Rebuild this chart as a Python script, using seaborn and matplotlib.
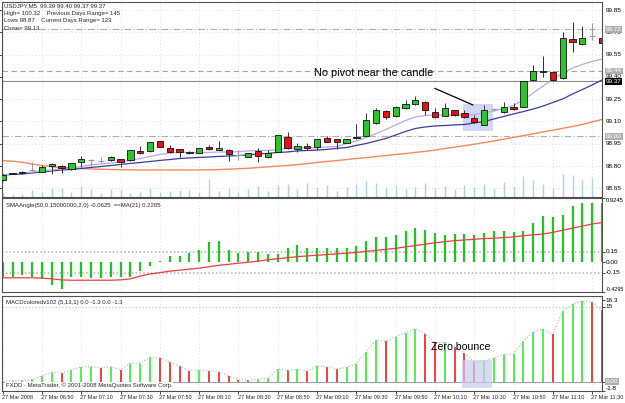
import matplotlib
matplotlib.use("Agg")
import matplotlib.pyplot as plt
import matplotlib.transforms as mtrans
from matplotlib.patches import Rectangle
import numpy as np
import pandas as pd
import seaborn as sns

sns.set_style("white")
plt.rcParams["font.family"] = ["Liberation Sans Narrow", "Liberation Sans", "DejaVu Sans"]

# ---------------- data ----------------
bars = list(range(62))
opens = [98.707, 98.748, 98.752, 98.774, 98.761, 98.801, 98.801, 98.779, 98.826, 98.840,
         98.835, 98.839, 98.848, 98.841, 98.902, 98.900, 98.967, 98.920, 98.913, 98.886,
         98.890, 98.931, 98.909, 98.909, 98.875, 98.863, 98.900, 98.859, 98.897, 98.998,
         98.913, 98.935, 98.931, 98.987, 98.980, 98.958, 98.987, 99.002, 99.090, 99.171,
         99.134, 99.189, 99.221, 99.233, 99.167, 99.137, 99.177, 99.159, 99.122, 99.077,
         99.181, 99.166, 99.200, 99.200, 99.379, 99.430, 99.433, 99.391, 99.653, 99.619,
         99.677, 99.660]
highs = [98.750, 98.755, 98.765, 98.830, 98.808, 98.823, 98.805, 98.822, 98.868, 98.850,
         98.860, 98.865, 98.850, 98.910, 98.935, 98.962, 98.968, 98.940, 98.915, 98.900,
         98.925, 98.942, 98.969, 98.912, 98.909, 98.890, 98.922, 98.909, 99.010, 99.032,
         98.958, 98.954, 98.985, 99.003, 98.983, 98.985, 99.081, 99.157, 99.193, 99.175,
         99.205, 99.245, 99.272, 99.235, 99.189, 99.223, 99.180, 99.177, 99.144, 99.211,
         99.190, 99.233, 99.225, 99.375, 99.480, 99.543, 99.440, 99.704, 99.771, 99.742,
         99.763, 99.711]
lows = [98.700, 98.745, 98.750, 98.761, 98.758, 98.747, 98.754, 98.775, 98.796, 98.800,
        98.820, 98.835, 98.796, 98.835, 98.880, 98.898, 98.930, 98.886, 98.859, 98.880,
        98.885, 98.909, 98.905, 98.837, 98.841, 98.860, 98.828, 98.855, 98.895, 98.915,
        98.897, 98.909, 98.909, 98.960, 98.913, 98.955, 98.980, 99.000, 99.085, 99.117,
        99.130, 99.182, 99.211, 99.144, 99.124, 99.135, 99.140, 99.125, 99.090, 99.075,
        99.170, 99.160, 99.180, 99.198, 99.375, 99.401, 99.373, 99.385, 99.568, 99.615,
        99.648, 99.625]
closes = [98.740, 98.752, 98.762, 98.774, 98.794, 98.814, 98.790, 98.819, 98.848, 98.840,
          98.835, 98.861, 98.826, 98.909, 98.886, 98.960, 98.931, 98.897, 98.893, 98.895,
          98.920, 98.917, 98.920, 98.882, 98.875, 98.886, 98.870, 98.890, 99.009, 98.920,
          98.937, 98.920, 98.980, 98.964, 98.964, 98.980, 98.998, 99.110, 99.178, 99.130,
          99.200, 99.216, 99.245, 99.177, 99.130, 99.189, 99.142, 99.128, 99.095, 99.177,
          99.181, 99.196, 99.184, 99.373, 99.442, 99.442, 99.379, 99.660, 99.633, 99.660,
          99.677, 99.630]
volumes = [12, 9, 9, 21, 15, 27, 27, 15, 33, 24, 12, 24, 24, 12, 15, 27, 15, 18, 21, 21,
           15, 54, 18, 27, 15, 24, 33, 18, 36, 39, 24, 42, 27, 36, 18, 30, 39, 48, 42, 30,
           36, 24, 30, 42, 27, 33, 24, 36, 30, 39, 27, 45, 33, 63, 51, 39, 27, 69, 66, 51,
           57, 36]
ma_fast = [98.740, 98.747, 98.754, 98.760, 98.767, 98.774, 98.781, 98.787, 98.797, 98.808,
           98.814, 98.821, 98.828, 98.838, 98.851, 98.865, 98.878, 98.888, 98.892, 98.892,
           98.888, 98.892, 98.895, 98.895, 98.898, 98.902, 98.905, 98.905, 98.912, 98.919,
           98.922, 98.922, 98.925, 98.929, 98.932, 98.952, 98.969, 98.992, 99.019, 99.046,
           99.077, 99.107, 99.130, 99.140, 99.144, 99.144, 99.144, 99.144, 99.147, 99.157,
           99.171, 99.188, 99.208, 99.245, 99.292, 99.339, 99.383, 99.426, 99.460, 99.484,
           99.504, 99.520]
ma_mid = [98.740, 98.744, 98.747, 98.754, 98.760, 98.767, 98.774, 98.777, 98.784, 98.791,
          98.797, 98.804, 98.811, 98.818, 98.824, 98.831, 98.838, 98.844, 98.851, 98.855,
          98.858, 98.861, 98.865, 98.868, 98.871, 98.875, 98.882, 98.885, 98.892, 98.895,
          98.902, 98.905, 98.908, 98.912, 98.919, 98.925, 98.939, 98.952, 98.969, 98.986,
          99.009, 99.033, 99.053, 99.063, 99.070, 99.073, 99.077, 99.080, 99.090, 99.100,
          99.117, 99.134, 99.151, 99.167, 99.184, 99.204, 99.228, 99.252, 99.285, 99.315,
          99.346, 99.379]
ma_slow = [98.837, 98.833, 98.826, 98.814, 98.804, 98.795, 98.791, 98.787, 98.784, 98.781,
           98.779, 98.777, 98.776, 98.775, 98.774, 98.774, 98.774, 98.774, 98.774, 98.774,
           98.774, 98.775, 98.777, 98.779, 98.782, 98.785, 98.790, 98.795, 98.800, 98.804,
           98.810, 98.817, 98.824, 98.831, 98.837, 98.844, 98.851, 98.857, 98.864, 98.871,
           98.878, 98.884, 98.892, 98.899, 98.908, 98.918, 98.927, 98.937, 98.947, 98.958,
           98.969, 98.981, 98.993, 99.005, 99.017, 99.030, 99.042, 99.054, 99.067, 99.080,
           99.097, 99.114]
angle = [-0.21, -0.21, -0.19, -0.21, -0.24, -0.33, -0.38, -0.22, -0.22, -0.23,
         -0.23, -0.22, -0.22, -0.21, -0.13, -0.05, 0.02, 0.09, 0.09, 0.13,
         0.17, 0.29, 0.31, 0.17, 0.13, 0.15, 0.14, 0.12, 0.12, 0.21,
         0.25, 0.21, 0.20, 0.21, 0.20, 0.20, 0.24, 0.30, 0.36, 0.36,
         0.39, 0.45, 0.49, 0.47, 0.42, 0.39, 0.41, 0.41, 0.39, 0.42,
         0.45, 0.45, 0.43, 0.45, 0.56, 0.66, 0.65, 0.68, 0.81, 0.85,
         0.85, 0.85]
angle_ma = [-0.225, -0.225, -0.225, -0.225, -0.23, -0.24, -0.255, -0.26, -0.26, -0.26,
            -0.26, -0.26, -0.255, -0.24, -0.20, -0.17, -0.15, -0.13, -0.115, -0.10,
            -0.085, -0.065, -0.045, -0.03, -0.015, 0.0, 0.015, 0.035, 0.05, 0.065,
            0.08, 0.09, 0.10, 0.11, 0.12, 0.13, 0.14, 0.155, 0.17, 0.185,
            0.20, 0.22, 0.24, 0.26, 0.28, 0.295, 0.31, 0.32, 0.33, 0.34,
            0.345, 0.355, 0.365, 0.38, 0.395, 0.405, 0.43, 0.46, 0.49, 0.52,
            0.55, 0.57]
macd = [0.15, 0.25, 0.3, 0.5, 1.2, 1.9, 1.85, 2.4, 3.0, 3.05,
        2.85, 3.0, 2.4, 3.7, 3.75, 4.9, 4.85, 3.9, 3.2, 2.25,
        2.4, 2.25, 2.05, 1.2, 0.4, 0.3, 0.5, 0.8, 2.6, 2.3,
        2.5, 2.2, 3.2, 3.0, 2.6, 2.9, 3.6, 6.0, 8.3, 8.1,
        9.0, 9.8, 10.6, 9.6, 7.8, 7.9, 7.0, 5.8, 3.9, 4.2,
        4.8, 5.5, 5.6, 8.2, 9.9, 10.5, 9.5, 14.2, 15.5, 16.1,
        16.0, 14.3]
time_labels = ["27 Mar 2008", "27 Mar 06:50", "27 Mar 07:10", "27 Mar 07:30", "27 Mar 07:50",
               "27 Mar 08:10", "27 Mar 08:30", "27 Mar 08:50", "27 Mar 09:10", "27 Mar 09:30",
               "27 Mar 09:50", "27 Mar 10:10", "27 Mar 10:30", "27 Mar 10:50", "27 Mar 11:10",
               "27 Mar 11:30"]
label_bars = [0, 4, 8, 12, 16, 20, 24, 28, 32, 36, 40, 44, 48, 52, 56, 60]
price_ticks = [99.85, 99.70, 99.55, 99.40, 99.25, 99.10, 98.95, 98.80, 98.65]
header_lines = ["USDJPY,M5  99.39 99.40 99.37 99.37",
                "High= 100.32    Previous Days Range= 145",
                "Lows 98.87    Current Days Range= 123",
                "Close= 99.13"]

df = pd.DataFrame({"bar": bars, "open": opens, "high": highs, "low": lows, "close": closes,
                   "volume": volumes, "ma_fast": ma_fast, "ma_mid": ma_mid, "ma_slow": ma_slow,
                   "angle": angle, "angle_ma": angle_ma, "macd": macd})

# ---------------- figure layout (pixel based) ----------------
W, H = 625, 403
fig = plt.figure(figsize=(W / 100, H / 100), dpi=100)
fig.patch.set_facecolor("white")


def rect(top, bottom):
    return [2 / W, 1 - bottom / H, 600 / W, (bottom - top) / H]


ax1 = fig.add_axes(rect(2, 197))
ax2 = fig.add_axes(rect(198, 292))
ax3 = fig.add_axes(rect(296, 391))

XL = (-0.07, 61.0)
FS = 4.6      # right-axis labels
FSX = 3.95    # time labels
FSH = 4.3     # header / titles
GRID = dict(color="#d2d2d2", linestyle=(0, (1, 3)), linewidth=0.6)

for ax in (ax1, ax2, ax3):
    ax.set_facecolor("white")
    ax.set_xlim(*XL)
    ax.set_xticks(label_bars)
    ax.tick_params(axis="x", labelbottom=False, length=0)
    ax.tick_params(axis="y", left=False, right=True, labelleft=False, labelright=False,
                   length=2, width=0.6, direction="out")
    ax.yaxis.tick_right()
    ax.grid(True, axis="x", **GRID)
    for s in ax.spines.values():
        s.set_color("#505050")
        s.set_linewidth(0.8)


def rlabel(ax, y, txt, fc=None, tc="black", va="center", z=5, fs=None):
    tr = mtrans.blended_transform_factory(ax.transAxes, ax.transData)
    kw = {}
    if fc is not None:
        kw["bbox"] = dict(boxstyle="square,pad=0.15", fc=fc, ec="none")
    ax.text(1.006, y, txt, transform=tr, ha="left", va=va, fontsize=fs or FS, color=tc,
            clip_on=False, zorder=z, **kw)


# ---------------- main panel ----------------
ax1.set_ylim(98.592, 99.904)
ax1.set_yticks(price_ticks)
ax1.grid(True, axis="y", **GRID)

# volume on twin axis
axv = ax1.twinx()
axv.set_ylim(0, 585)
axv.set_xlim(*XL)
axv.axis("off")
axv.vlines(df["bar"], 0, df["volume"], color="#a4d3f3", lw=1.0, zorder=1)
ax1.set_zorder(axv.get_zorder() + 1)
ax1.patch.set_visible(False)

# level lines
ax1.axhline(99.72, color="#b9abab", lw=0.8, linestyle=(0, (6, 2, 1, 2)), zorder=1)
ax1.axhline(99.44, color="#a8a8a8", lw=0.8, linestyle=(0, (5, 3)), zorder=1)
ax1.axhline(99.37, color="#8c8c8c", lw=0.8, zorder=1)
ax1.axhline(99.00, color="#b9abab", lw=0.8, linestyle=(0, (6, 2, 1, 2)), zorder=1)

# moving averages
sns.lineplot(data=df, x="bar", y="ma_slow", ax=ax1, color="#f58a5c", lw=1.0, zorder=2)
sns.lineplot(data=df, x="bar", y="ma_mid", ax=ax1, color="#3c3ca0", lw=0.9, zorder=2)
sns.lineplot(data=df, x="bar", y="ma_fast", ax=ax1, color="#b8a9ec", lw=0.9, zorder=2)
ax1.set_xlabel("")
ax1.set_ylabel("")

# shaded region & annotation
ax1.add_patch(Rectangle((46.83, 99.036), 3.05, 0.182, fc="#c3c8f0", ec="none", alpha=0.75, zorder=1.5))
ax1.plot([43.98, 47.87], [99.323, 99.211], color="black", lw=0.9, zorder=5)
ax1.text(37.77, 99.405, "No pivot near the candle", ha="center", va="baseline",
         fontsize=7.8, family=["Liberation Sans", "DejaVu Sans"], color="black", zorder=5)

# candles
BW = 0.64
for i in bars:
    o, h, l, c = opens[i], highs[i], lows[i], closes[i]
    if o == c:
        ax1.vlines(i, l, h, color="#9a9a9a", lw=0.8, zorder=3)
        ax1.hlines(o, i - BW / 2, i + BW / 2, color="#9a9a9a", lw=0.8, zorder=3)
        continue
    ax1.vlines(i, l, h, color="#303030", lw=0.7, zorder=3)
    col = "#2ec42e" if c > o else "#e81010"
    ax1.bar(i, c - o, bottom=o, width=BW, color=col, edgecolor="#101010", linewidth=0.6, zorder=4)

for p in price_ticks:
    rlabel(ax1, p, f"{p:.2f}", z=4)
rlabel(ax1, 99.72, "99.72", fc="#b0b0b0", tc="white", z=6)
rlabel(ax1, 99.44, "99.44", fc="#b0b0b0", tc="white", z=6)
rlabel(ax1, 99.37, "99.37", fc="black", tc="white", z=7)
rlabel(ax1, 99.00, "99.00", fc="#b0b0b0", tc="white", z=6)

for k, line in enumerate(header_lines):
    fig.text(4 / W, 1 - (5.7 + 7.5 * k) / H, line, fontsize=FSH, ha="left", va="center")

# ---------------- SMAAngle panel ----------------
ax2.set_ylim(-0.4224, 0.922)
ax2.set_yticks([0.9245, 0.15, 0.0, -0.15, -0.4295])
ax2.axhline(0.15, color="#b0b0b0", lw=1.1, linestyle=(0, (1, 1.5)), zorder=1)
ax2.axhline(-0.15, color="#b0b0b0", lw=1.1, linestyle=(0, (1, 1.5)), zorder=1)
ax2.vlines(df["bar"], 0, df["angle"], color="#20c420", lw=1.6, zorder=2)
sns.lineplot(data=df, x="bar", y="angle_ma", ax=ax2, color="#f03c3c", lw=0.9, zorder=3)
ax2.set_xlabel("")
ax2.set_ylabel("")
ax2.text(0.006, 0.92, "SMAAngle(50,0.15000000,2,0) -0.0625  ==MA(21) 0.2205", transform=ax2.transAxes,
         fontsize=FSH, ha="left", va="center")
rlabel(ax2, 0.922, "0.9245", va="top", fs=4.2)
rlabel(ax2, 0.15, "0.15")
rlabel(ax2, 0.0, "0.00")
rlabel(ax2, -0.15, "-0.15")
rlabel(ax2, -0.4224, "-0.4295", va="bottom", fs=3.9)

# ---------------- MACD panel ----------------
ax3.set_ylim(-1.79, 17.1)
ax3.set_yticks([16.3, 15, 0, -1.8])
ax3.axhline(0, color="#a0a0a0", lw=0.8, zorder=1)
ax3.axhline(15, color="#c0c0c0", lw=0.8, linestyle=(0, (1, 2)), zorder=1)
macd_cols = ["#30ee30" if (i == 0 or macd[i] > macd[i - 1]) else "#ee1e1e" for i in bars]
ax3.vlines(df["bar"], 0, df["macd"], colors=macd_cols, lw=1.2, zorder=2)
sns.lineplot(data=df, x="bar", y="macd", ax=ax3, color="#bdbdbd", lw=0.9,
             linestyle=(0, (1, 1.5)), zorder=3)
ax3.set_xlabel("")
ax3.set_ylabel("")
ax3.add_patch(Rectangle((46.7, -1.19), 3.1, 5.56, fc="#c8ccf0", ec="none", alpha=0.7, zorder=2.5))
ax3.text(46.6, 6.4, "Zero bounce", ha="center", va="baseline", fontsize=7.6,
         family=["Liberation Sans", "DejaVu Sans"], color="black", zorder=5)
ax3.text(0.006, 0.93, "MACDcoloredv102 (5,13,1) 0.0 -1.3 0.0 -1.3", transform=ax3.transAxes,
         fontsize=FSH, ha="left", va="center")
ax3.text(0.006, 0.03, "FXDD - MetaTrader, \u00a9 2001-2008 MetaQuotes Software Corp.",
         transform=ax3.transAxes, fontsize=FSH, ha="left", va="bottom",
         bbox=dict(boxstyle="square,pad=0.1", fc="white", ec="none"), zorder=6)
rlabel(ax3, 16.3, "16.3")
rlabel(ax3, 15, "15")
rlabel(ax3, 0, "0.00", fc="#b0b0b0", tc="white")
rlabel(ax3, -1.79, "-1.8", va="bottom")

ax3.tick_params(axis="x", length=2, width=0.6, direction="out", bottom=True)
trx = mtrans.blended_transform_factory(ax3.transData, ax3.transAxes)
for b, lab in zip(label_bars, time_labels):
    ax3.text(b - 0.1, -0.065, lab, transform=trx, ha="left", va="center", fontsize=FSX,
             clip_on=False)

fig.savefig("out.png", dpi=100, facecolor="white")
